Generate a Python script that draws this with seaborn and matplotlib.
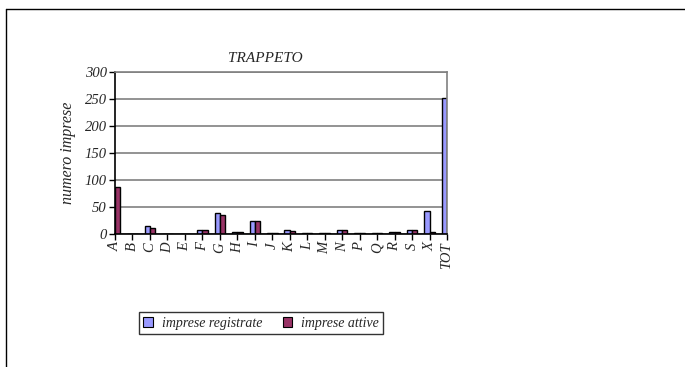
import numpy as np
import pandas as pd
import matplotlib.pyplot as plt
import seaborn as sns
from matplotlib.patches import Patch

categories = ['A', 'B', 'C', 'D', 'E', 'F', 'G', 'H', 'I', 'J',
              'K', 'L', 'M', 'N', 'P', 'Q', 'R', 'S', 'X', 'TOT']
registrate = [85, 0, 15, 0, 0, 7, 39, 4, 24, 1, 8, 2, 2, 7, 1, 2, 4, 7, 43, 251]
attive = [87, 0, 12, 0, 0, 7, 35, 4, 24, 1, 6, 2, 2, 7, 1, 2, 4, 7, 4, 205]
series_names = ['imprese registrate', 'imprese attive']
series_colors = ['#9999FF', '#993366']

df = pd.DataFrame({
    'settore': categories * 2,
    'valore': registrate + attive,
    'serie': [series_names[0]] * len(categories) + [series_names[1]] * len(categories),
})

sns.set_theme(style='white')
plt.rcParams['font.family'] = ['Liberation Serif', 'DejaVu Serif']
plt.rcParams['font.style'] = 'italic'

fig = plt.figure(figsize=(6.85, 3.67), dpi=100)
ax = fig.add_axes([115 / 685, 1 - 234 / 367, 332 / 685, 162 / 367])

sns.barplot(data=df, x='settore', y='valore', hue='serie', order=categories,
            hue_order=series_names, palette=series_colors, width=0.6,
            edgecolor='black', linewidth=1, saturation=1, ax=ax, legend=False)

# axis crosses at the category centres, so A and TOT are half cut
ax.set_xlim(0, len(categories) - 1)
ax.set_ylim(0, 300)
ax.set_yticks(range(0, 301, 50))
ax.yaxis.grid(True, color='#808080', linewidth=1.2)
ax.set_axisbelow(True)

for side in ['top', 'right']:
    ax.spines[side].set_color('#808080')
    ax.spines[side].set_linewidth(1.2)
for side in ['left', 'bottom']:
    ax.spines[side].set_color('black')
    ax.spines[side].set_linewidth(1.2)

ax.tick_params(axis='both', which='both', direction='out', length=4, width=1,
               color='black', labelsize=10.5, pad=2)
ax.tick_params(axis='x', bottom=True, labelrotation=90)
ax.tick_params(axis='y', left=True)
for lbl in ax.get_xticklabels() + ax.get_yticklabels():
    lbl.set_fontstyle('italic')

ax.set_xlabel('')
ax.set_ylabel('numero imprese', fontsize=11.5, style='italic', labelpad=6)
fig.text(265 / 685, 1 - 58 / 367, 'TRAPPETO', ha='center', va='center',
         fontsize=11, style='italic')

handles = [Patch(facecolor=c, edgecolor='black', linewidth=0.8) for c in series_colors]
leg = fig.legend(handles, series_names, loc='center', ncol=2,
                 bbox_to_anchor=(261 / 685, 1 - 323 / 367), frameon=True,
                 fancybox=False, edgecolor='black', fontsize=10,
                 handlelength=0.7, handleheight=0.7, columnspacing=1.5,
                 handletextpad=0.6, borderpad=0.3)
leg.get_frame().set_linewidth(1)
for t in leg.get_texts():
    t.set_fontstyle('italic')

# outer frame
fig.add_artist(plt.Line2D([6 / 685, 1], [1 - 9 / 367, 1 - 9 / 367], color='black', linewidth=1))
fig.add_artist(plt.Line2D([6 / 685, 6 / 685], [0, 1 - 9 / 367], color='black', linewidth=1))

fig.savefig('out.png', dpi=100)
